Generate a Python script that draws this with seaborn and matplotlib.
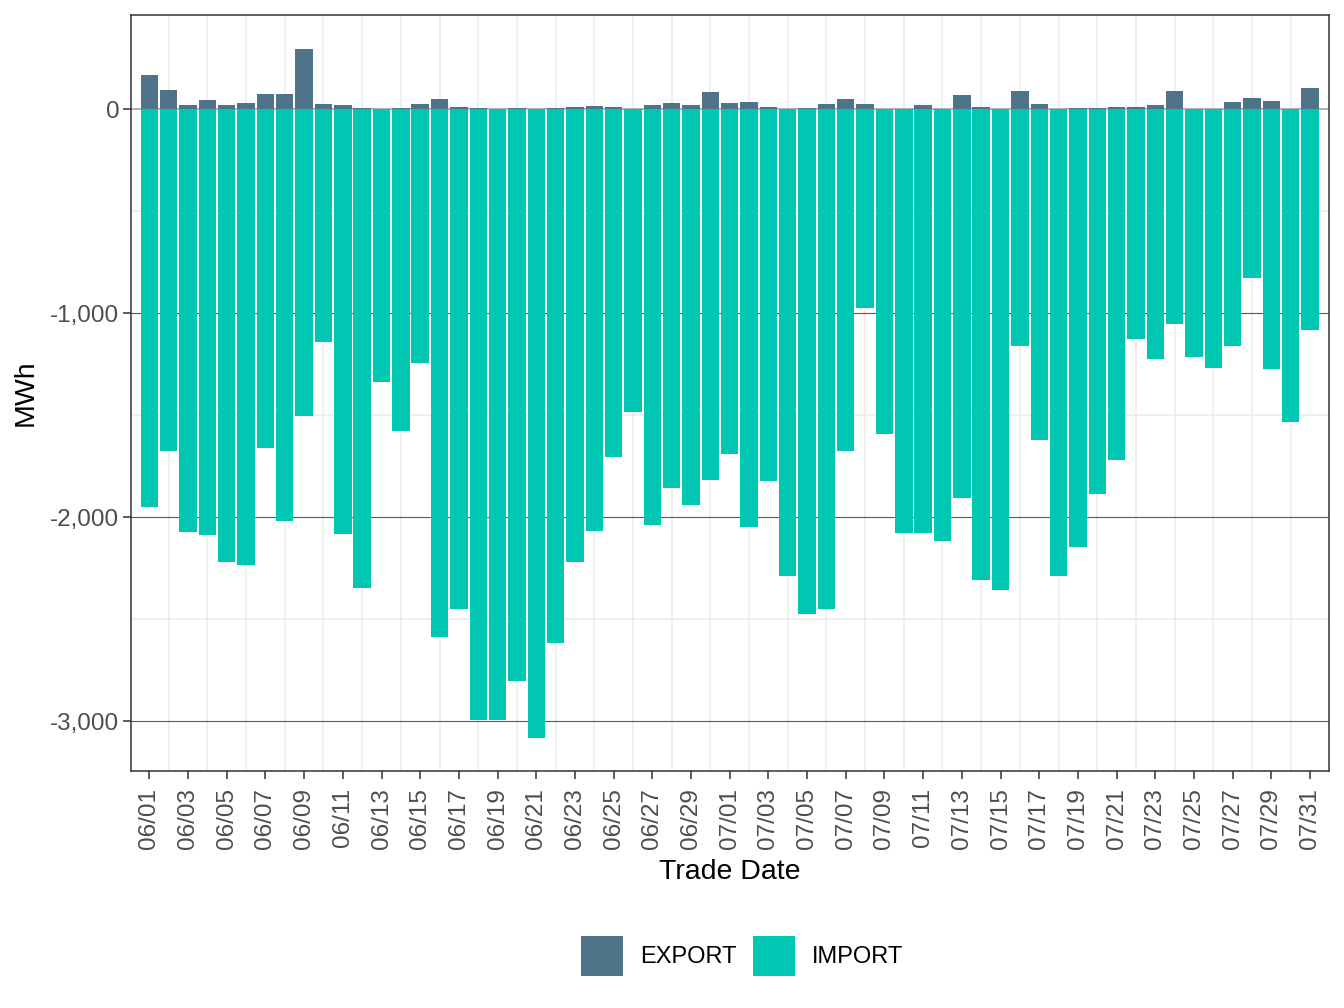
import numpy as np
import pandas as pd
import matplotlib
matplotlib.use("Agg")
import matplotlib.pyplot as plt
import matplotlib.patches as mpatches
from matplotlib.ticker import FuncFormatter, FixedLocator
import seaborn as sns

# ---- data ----
dates = ([f"06/{d:02d}" for d in range(1, 31)] +
         [f"07/{d:02d}" for d in range(1, 32)])

export_mwh = [168, 93, 20, 44, 20, 29, 73, 73, 294, 25,
              20, 5, 2, 5, 25, 49, 10, 5, 1, 5,
              1, 5, 10, 15, 10, 0, 20, 29, 20, 83,
              29, 34, 10, 0, 5, 25, 49, 25, 0, 0,
              20, 0, 69, 10, 0, 88, 25, 0, 5, 5,
              10, 10, 20, 88, 0, 0, 34, 54, 39, 0,
              103]

import_mwh = [-1949, -1675, -2072, -2087, -2219, -2234, -1660, -2018, -1503, -1141,
              -2082, -2346, -1337, -1577, -1243, -2587, -2449, -2993, -2993, -2802,
              -3082, -2616, -2219, -2067, -1704, -1484, -2038, -1856, -1940, -1817,
              -1690, -2047, -1822, -2288, -2474, -2449, -1675, -974, -1592, -2077,
              -2077, -2116, -1905, -2307, -2356, -1160, -1621, -2288, -2145, -1886,
              -1719, -1126, -1224, -1052, -1214, -1268, -1160, -827, -1273, -1533,
              -1082]

types = ["EXPORT", "IMPORT"]
colors = {"EXPORT": "#4F7489", "IMPORT": "#00C7B2"}

df = pd.DataFrame({
    "Trade Date": dates * 2,
    "MWh": export_mwh + import_mwh,
    "type": ["EXPORT"] * len(dates) + ["IMPORT"] * len(dates),
})

# ---- plot ----
sns.set_theme(style="white")
plt.rcParams["font.family"] = ["Liberation Sans", "DejaVu Sans"]

fig = plt.figure(figsize=(13.44, 10.08), dpi=100)
ax = fig.add_axes([131 / 1344, 1 - 771 / 1008, (1329 - 131) / 1344, (771 - 15) / 1008])

n = len(dates)
# grid lines
for i in range(1, n, 2):
    ax.axvline(i, color="#ebebeb", lw=1.1, zorder=0)
for v in [-500, -1500, -2500]:
    ax.axhline(v, color="#ebebeb", lw=1.1, zorder=0)
for v in [-1000, -2000, -3000]:
    ax.axhline(v, color="#5a5a5a", lw=0.8, zorder=0)
ax.axhline(0, color="#b0b0b0", lw=1.4, zorder=0)

sns.barplot(data=df, x="Trade Date", y="MWh", hue="type", dodge=False,
            palette=colors, hue_order=types, order=dates, width=0.9,
            saturation=1, legend=False, ax=ax, zorder=2, errorbar=None,
            linewidth=0, edgecolor="none")

ax.set_xlim(-0.95, n - 1 + 0.98)
ax.set_ylim(-3245, 461)

ax.yaxis.set_major_locator(FixedLocator([-3000, -2000, -1000, 0]))
ax.yaxis.set_major_formatter(FuncFormatter(lambda v, p: f"{int(v):,}"))
ax.set_xticks(list(range(0, n, 2)))
ax.set_xticklabels([dates[i] for i in range(0, n, 2)], rotation=90)

ax.tick_params(axis="both", which="major", length=5.5, width=1.1, color="#333333",
               labelsize=17.5, labelcolor="#4d4d4d", bottom=True, left=True)
ax.tick_params(axis="x", pad=6.5)
ax.tick_params(axis="y", pad=3)
for s in ax.spines.values():
    s.set_color("#333333")
    s.set_linewidth(1.1)

ax.set_xlabel("Trade Date", fontsize=20.5, color="black", labelpad=7.5)
ax.set_ylabel("MWh", fontsize=20.5, color="black", labelpad=8)

handles = [mpatches.Patch(facecolor=colors[t], edgecolor="none", label=t) for t in types]
leg = fig.legend(handles=handles, loc="center", bbox_to_anchor=(742 / 1344, 1 - 956 / 1008),
                 ncol=2, frameon=False, fontsize=17, handlelength=1.78, handleheight=2.2,
                 handletextpad=0.72, columnspacing=0.68)
for t in leg.get_texts():
    t.set_color("black")

fig.savefig("out.png", dpi=100)
